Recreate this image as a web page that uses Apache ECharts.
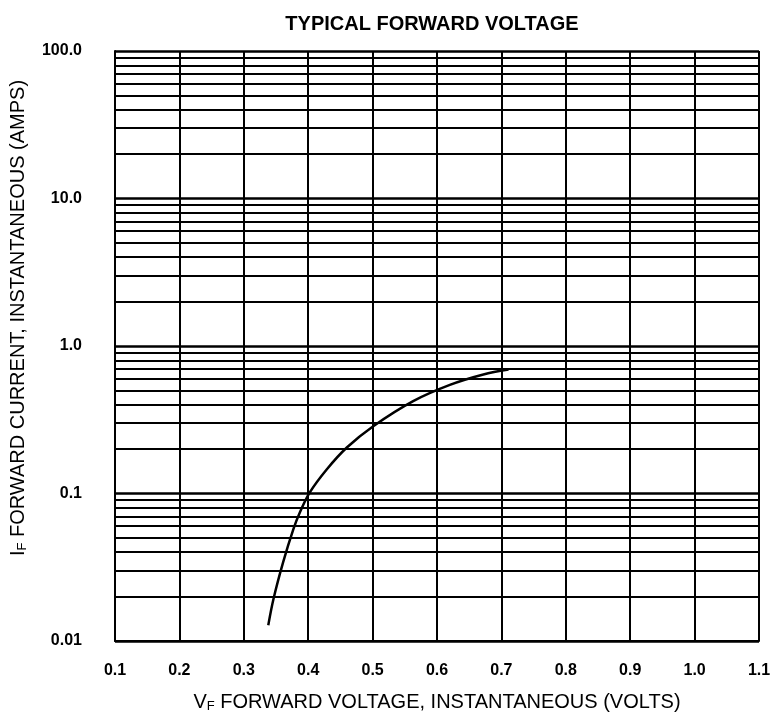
<!DOCTYPE html>
<html>
<head>
<meta charset="utf-8">
<script src="https://cdn.jsdelivr.net/npm/echarts@6/dist/echarts.min.js"></script>
<style>
html,body{margin:0;padding:0;background:#fff;}
#chart{width:778px;height:718px;}
</style>
</head>
<body>
<div id="chart"></div>
<script>
// Forward voltage (V) and instantaneous forward current (A)
const voltage = [0.338, 0.346, 0.361, 0.377, 0.387, 0.402, 0.429, 0.460, 0.501, 0.563, 0.620, 0.672, 0.711];
const current = [0.0128, 0.0192, 0.0341, 0.0573, 0.0743, 0.101, 0.146, 0.205, 0.286, 0.423, 0.545, 0.641, 0.693];

// Axis ticks
const xTicks = [0.1, 0.2, 0.3, 0.4, 0.5, 0.6, 0.7, 0.8, 0.9, 1.0, 1.1];
const yTickValues = [0.01, 0.1, 1, 10, 100];
const yTickLabels = ['0.01', '0.1', '1.0', '10.0', '100.0'];
// Minor log grid lines (2..9 within each decade)
const minorMultipliers = [2, 3, 4, 5, 6, 7, 8, 9];
const decades = [0.01, 0.1, 1, 10];

const minorLines = [];
decades.forEach(d => minorMultipliers.forEach(m => minorLines.push(+(d * m).toPrecision(3))));

const FONT = '"Liberation Sans", Arial, Helvetica, sans-serif';

const chart = echarts.init(document.getElementById('chart'), null, {renderer: 'canvas'});
chart.setOption({
  backgroundColor: '#ffffff',
  animation: false,
  title: {
    text: 'TYPICAL FORWARD VOLTAGE',
    left: 427, top: 9, textAlign: 'center',
    textStyle: {fontFamily: FONT, fontSize: 20, fontWeight: 'bold', color: '#000'}
  },
  grid: {left: 115, right: 19, top: 51, bottom: 76, containLabel: false},
  xAxis: {
    type: 'value', min: 0.1, max: 1.1, interval: 0.1,
    name: '{v|V}{s|F} FORWARD VOLTAGE, INSTANTANEOUS (VOLTS)',
    nameLocation: 'middle', nameGap: 50,
    nameTextStyle: {
      fontFamily: FONT, fontSize: 20, color: '#000',
      rich: {
        v: {fontFamily: FONT, fontSize: 20, color: '#000'},
        s: {fontFamily: FONT, fontSize: 13, color: '#000', padding: [9, 0, 0, 0]}
      }
    },
    axisLine: {show: true, lineStyle: {color: '#000', width: 2}},
    axisTick: {show: false},
    axisLabel: {
      margin: 22, fontFamily: FONT, fontSize: 16, fontWeight: 'bold', color: '#000',
      formatter: v => {
        const i = xTicks.findIndex(t => Math.abs(t - v) < 1e-6);
        return i >= 0 ? xTicks[i].toFixed(1) : '';
      }
    },
    splitLine: {show: true, lineStyle: {color: '#000', width: 2}}
  },
  yAxis: {
    type: 'log', logBase: 10, min: 0.01, max: 100,
    name: '{v|I}{s|F} FORWARD CURRENT, INSTANTANEOUS (AMPS)',
    nameLocation: 'middle', nameGap: 86, nameRotate: 90,
    nameTextStyle: {
      fontFamily: FONT, fontSize: 20, color: '#000',
      padding: [0, 0, 0, 56],
      rich: {
        v: {fontFamily: FONT, fontSize: 20, color: '#000'},
        s: {fontFamily: FONT, fontSize: 13, color: '#000', padding: [9, 0, 0, 0]}
      }
    },
    axisLine: {show: true, lineStyle: {color: '#000', width: 2}},
    axisTick: {show: false},
    axisLabel: {
      margin: 33, fontFamily: FONT, fontSize: 16, fontWeight: 'bold', color: '#000',
      formatter: v => {
        const i = yTickValues.findIndex(t => Math.abs(Math.log10(t) - Math.log10(v)) < 1e-6);
        return i >= 0 ? yTickLabels[i] : '';
      }
    },
    splitLine: {show: true, lineStyle: {color: '#000', width: 2.5}}
  },
  series: [
    {
      type: 'line',
      data: [],
      silent: true,
      markLine: {
        silent: true, symbol: ['none', 'none'], label: {show: false},
        lineStyle: {color: '#000', width: 2, type: 'solid'},
        data: minorLines.map(v => ({yAxis: v}))
      },
      z: 1
    },
    {
      type: 'line',
      data: voltage.map((v, i) => [v, current[i]]),
      smooth: 0.35,
      showSymbol: false,
      lineStyle: {color: '#000', width: 2.5},
      z: 5
    }
  ]
});
</script>
</body>
</html>
